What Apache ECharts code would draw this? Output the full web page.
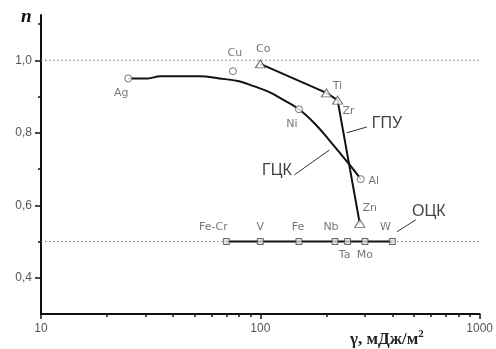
<!DOCTYPE html>
<html><head><meta charset="utf-8">
<script src="https://cdn.jsdelivr.net/npm/echarts@6/dist/echarts.min.js"></script>
<style>html,body{margin:0;padding:0;background:#fff}#c{width:496px;height:349px}</style>
</head><body><div id="c"></div>
<script>
// ---- data ----
const fccNames = ['Ag', 'Cu', 'Ni', 'Al'];
const fccX = [25, 75, 150, 287];
const fccY = [0.95, 0.97, 0.865, 0.672];

const hcpNames = ['Co', 'Ti', 'Zr', 'Zn'];
const hcpX = [100, 200, 225, 284];
const hcpY = [0.99, 0.91, 0.89, 0.55];

const bccNames = ['Fe-Cr', 'V', 'Fe', 'Nb', 'Ta', 'Mo', 'W'];
const bccX = [70, 100, 150, 219, 250, 300, 400];
const bccY = [0.5, 0.5, 0.5, 0.5, 0.5, 0.5, 0.5];

const fccCurveX = [25, 30.6, 35, 53, 65, 80, 94, 110, 128, 150, 176, 206, 241, 267, 287];
const fccCurveY = [0.95, 0.95, 0.956, 0.956, 0.95, 0.942, 0.928, 0.912, 0.89, 0.865, 0.827, 0.78, 0.73, 0.697, 0.672];

const refLevels = [1.0, 0.5];
const xMajorTicks = [10, 100, 1000];
const xMinorTicks = [20, 30, 40, 50, 60, 70, 80, 90, 200, 300, 400, 500, 600, 700, 800, 900];
const yMajorTicks = [0.4, 0.6, 0.8, 1.0];
const yMinorTicks = [0.5, 0.7, 0.9, 1.1];

const groupLabels = ['ГЦК', 'ГПУ', 'ОЦК'];
const groupLabelX = [119, 378, 586];
const groupLabelY = [0.697, 0.824, 0.582];
// leader lines: [x1, y1, x2, y2]
const leaderFcc = [[143, 0.684], [206, 0.752]];
const leaderHcp = [[248, 0.80], [306, 0.816]];
const leaderBcc = [[420, 0.527], [512, 0.56]];

// ---- label offsets (style) ----
const labelOffsets = {
  'Ag': [-7, 15], 'Cu': [2, -18], 'Ni': [-7, 15], 'Al': [13, 2],
  'Co': [3, -15], 'Ti': [11, -7], 'Zr': [11, 11], 'Zn': [10, -15],
  'Fe-Cr': [-13, -14], 'V': [0, -14], 'Fe': [-1, -14], 'Nb': [-4, -14],
  'Ta': [-3, 14], 'Mo': [0, 14], 'W': [-7, -14]
};

const lblFont = 'Liberation Sans, Arial, sans-serif';
const ptFont = 'DejaVu Sans, Verdana, sans-serif';

function pts(xs, ys) { return xs.map((x, i) => [x, ys[i]]); }
function named(names, xs, ys) {
  return names.map((n, i) => ({
    name: n, value: [xs[i], ys[i]],
    label: { show: true, position: 'inside', offset: labelOffsets[n], formatter: n,
      color: '#555', fontSize: 11, fontFamily: ptFont }
  }));
}

const chart = echarts.init(document.getElementById('c'));
const axisBase = { min: 10, max: 1000, logBase: 10 };

const option = {
  animation: false,
  backgroundColor: '#fff',
  title: [
    { text: 'n', left: 16, top: 3, textStyle: { fontFamily: 'Liberation Serif, Times New Roman, serif', fontStyle: 'italic', fontWeight: 'bold', fontSize: 19, color: '#111' } },
    { text: '{a|γ, мДж/м}{s|2}', left: 345, top: 324, textStyle: { rich: {
      a: { fontFamily: 'Liberation Serif, Times New Roman, serif', fontSize: 17, color: '#222', verticalAlign: 'bottom' },
      s: { fontFamily: 'Liberation Serif, Times New Roman, serif', fontSize: 11, color: '#222', verticalAlign: 'top', padding: [0, 0, 8, 0] } } } }
  ],
  grid: { left: 41, right: 15, top: 15, bottom: 35 },
  xAxis: [
    Object.assign({ type: 'log' }, axisBase, {
      axisLine: { lineStyle: { color: '#111', width: 2 } },
      axisTick: { show: true, length: 5, customValues: xMajorTicks, lineStyle: { color: '#111', width: 1.5 } },
      axisLabel: { customValues: xMajorTicks, color: '#555', fontSize: 12, fontFamily: lblFont, margin: 9,
        formatter: v => String(Math.round(v)) },
      splitLine: { show: false }
    }),
    Object.assign({ type: 'log', position: 'bottom' }, axisBase, {
      axisLine: { show: false },
      axisTick: { show: true, length: 3, customValues: xMinorTicks, lineStyle: { color: '#111', width: 1.5 } },
      axisLabel: { show: false },
      splitLine: { show: false }
    })
  ],
  yAxis: [
    { type: 'value', min: 0.3, max: 1.125, interval: 0.1,
      axisLine: { show: true, lineStyle: { color: '#111', width: 2 } },
      axisTick: { show: true, length: 6, customValues: yMajorTicks, lineStyle: { color: '#111', width: 1.5 } },
      axisLabel: { customValues: yMajorTicks, color: '#555', fontSize: 12, fontFamily: lblFont, margin: 9,
        formatter: v => v.toFixed(1).replace('.', ',') },
      splitLine: { show: false } },
    { type: 'value', min: 0.3, max: 1.125, interval: 0.1, position: 'left',
      axisLine: { show: false },
      axisTick: { show: true, length: 3, customValues: yMinorTicks, lineStyle: { color: '#111', width: 1.5 } },
      axisLabel: { show: false },
      splitLine: { show: false } }
  ],
  series: [
    ...refLevels.map(v => ({ type: 'line', data: [[10, v], [1000, v]], symbol: 'none', silent: true,
      lineStyle: { color: '#777', width: 1, type: [1.5, 2.5] }, z: 1 })),
    { type: 'line', data: pts(fccCurveX, fccCurveY), smooth: 0.4, symbol: 'none',
      lineStyle: { color: '#111', width: 2 }, z: 2 },
    { type: 'line', data: pts(hcpX, hcpY), symbol: 'none',
      lineStyle: { color: '#111', width: 2 }, z: 2 },
    { type: 'line', data: pts(bccX, bccY), symbol: 'none',
      lineStyle: { color: '#111', width: 2 }, z: 2 },
    ...[leaderFcc, leaderHcp, leaderBcc].map(d => ({ type: 'line', data: d, symbol: 'none',
      lineStyle: { color: '#333', width: 1 }, z: 2 })),
    { type: 'scatter', data: named(fccNames, fccX, fccY), symbol: 'circle', symbolSize: 7,
      itemStyle: { color: '#fff', borderColor: '#555', borderWidth: 1 }, z: 5 },
    { type: 'scatter', data: named(hcpNames, hcpX, hcpY), symbol: 'triangle', symbolSize: [10, 8],
      itemStyle: { color: '#fff', borderColor: '#444', borderWidth: 1 }, z: 5 },
    { type: 'scatter', data: named(bccNames, bccX, bccY), symbol: 'rect', symbolSize: 6,
      itemStyle: { color: '#ddd', borderColor: '#444', borderWidth: 1 }, z: 5 },
    { type: 'scatter', symbolSize: 0, z: 6,
      data: groupLabels.map((n, i) => ({ value: [groupLabelX[i], groupLabelY[i]],
        label: { show: true, position: 'inside', formatter: n, color: '#111', fontSize: 16, fontFamily: lblFont } })) }
  ]
};
chart.setOption(option);
</script></body></html>
